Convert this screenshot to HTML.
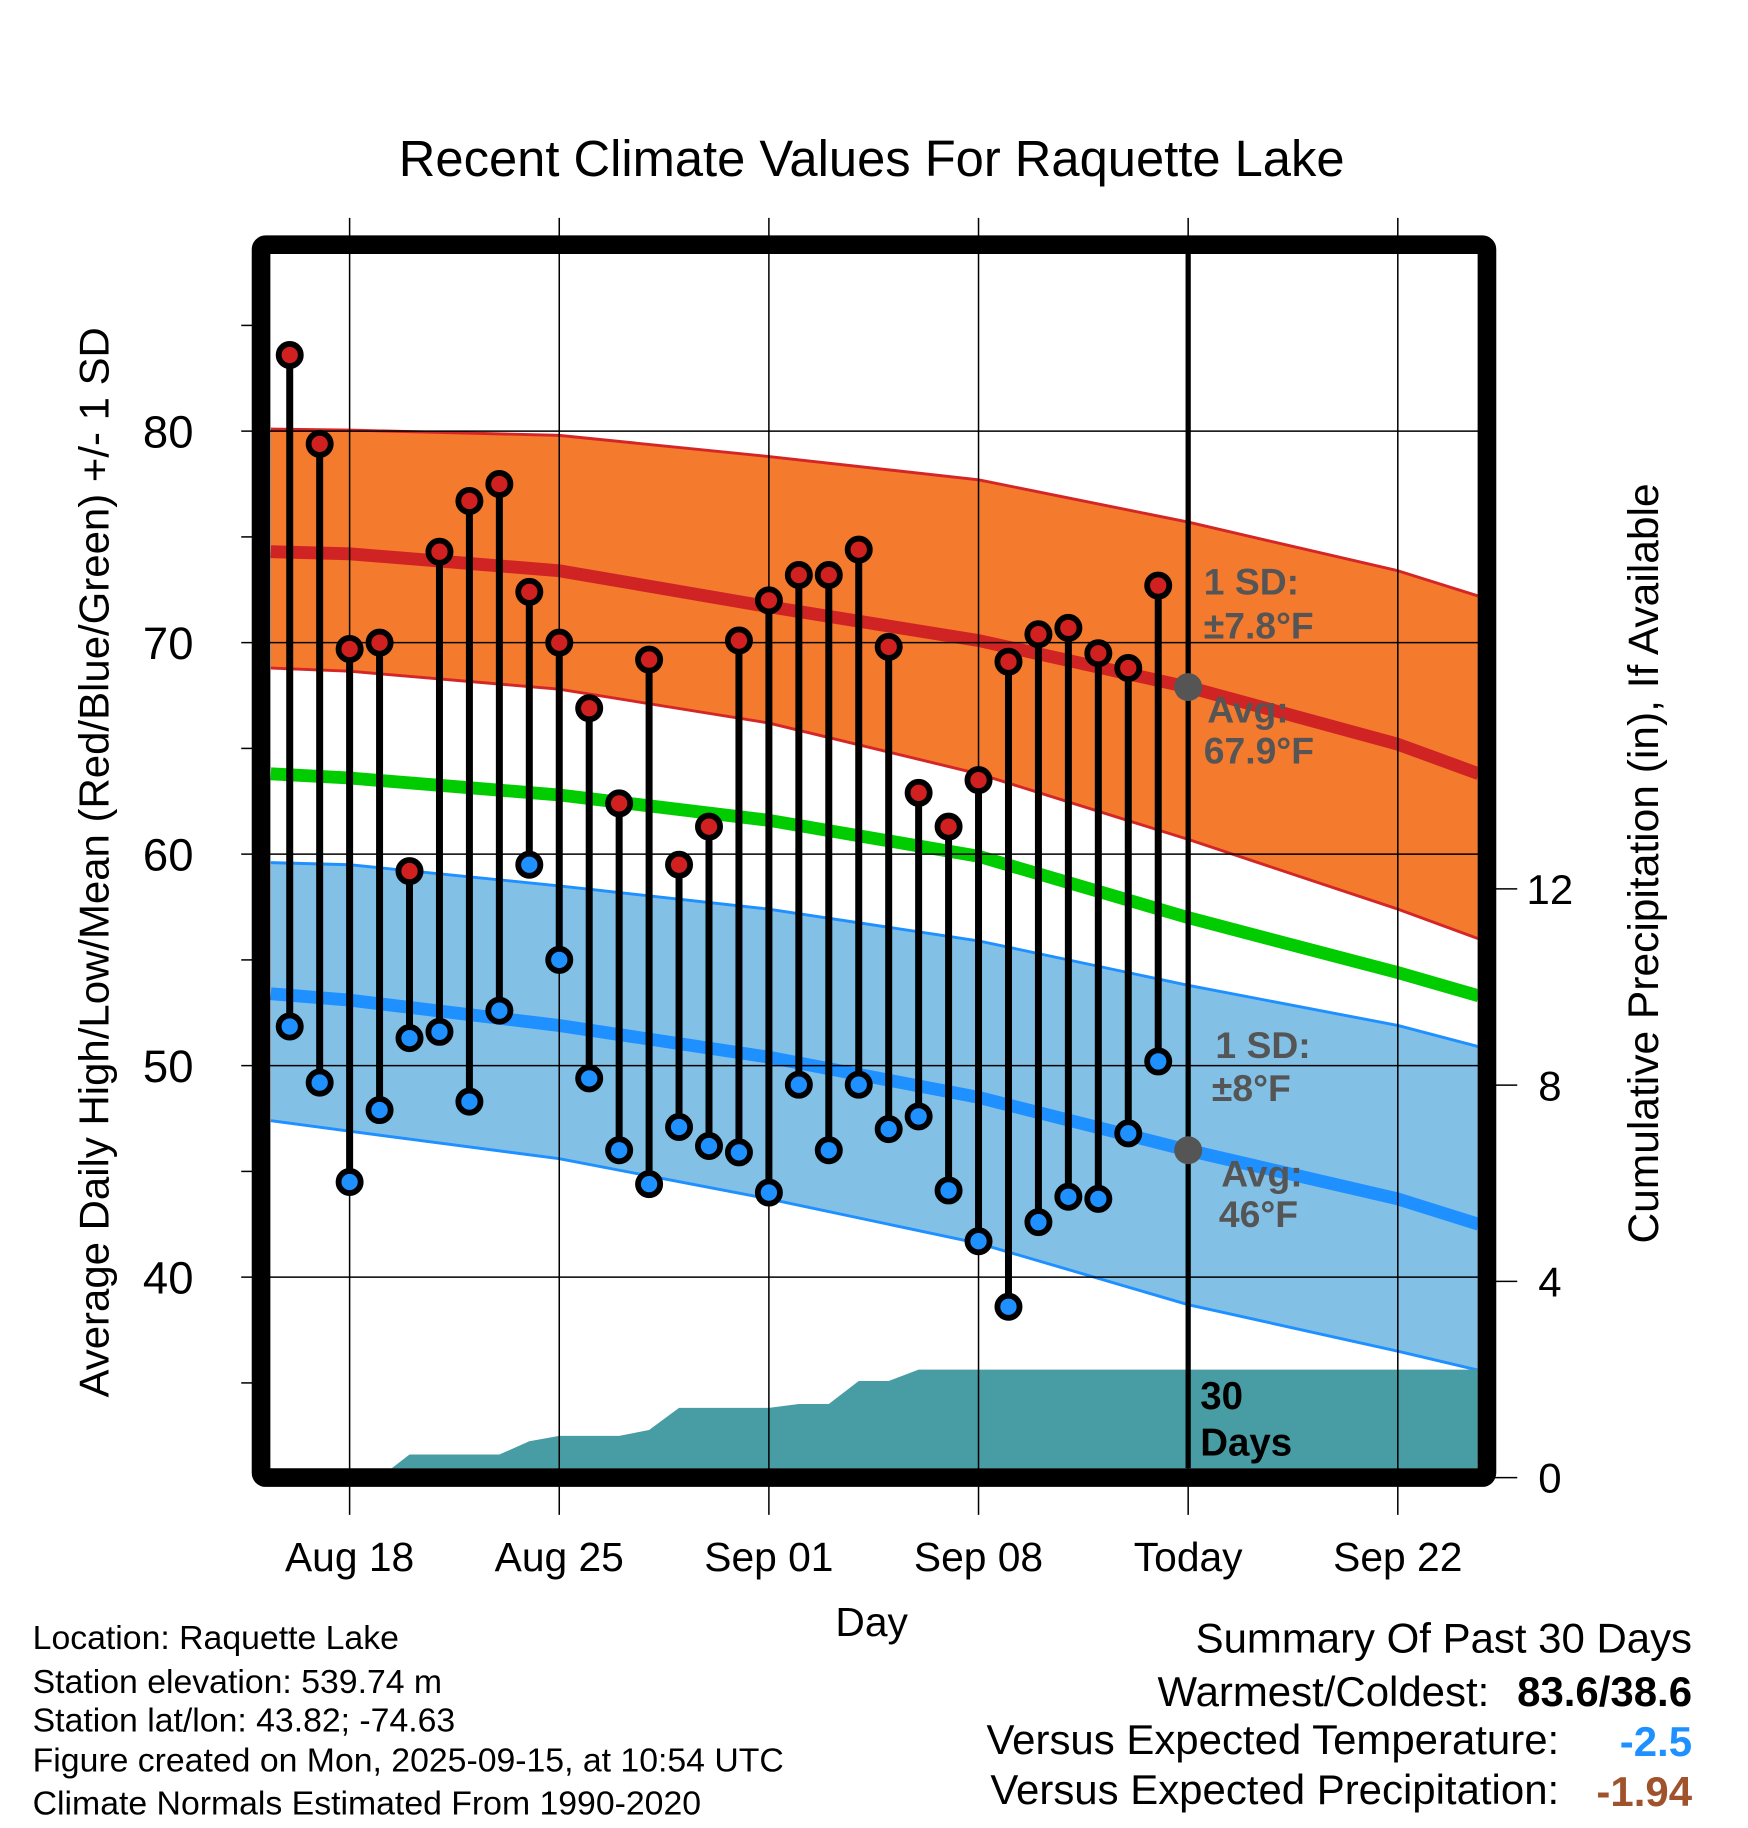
<!DOCTYPE html>
<html><head><meta charset="utf-8"><style>
html,body{margin:0;padding:0;background:#fff}
svg{display:block}
text{font-family:"Liberation Sans",Arial,sans-serif}
</style></head><body>
<svg id="chart" width="1748" height="1828" viewBox="0 0 1500 1568.7" xmlns="http://www.w3.org/2000/svg">
<rect width="1500" height="1568.7" fill="#fff"/>
<g id="bands"></g>
<g id="grid"></g>
<g id="marks"></g>
<g id="frame"></g>
<g id="labels"></g>
</svg>
<script>
// ----- data -----
const highs=[83.6,79.4,69.7,70.0,59.2,74.3,76.7,77.5,72.4,70.0,66.9,62.4,69.2,59.5,61.3,70.1,72.0,73.2,73.2,74.4,69.8,62.9,61.3,63.5,69.1,70.4,70.7,69.5,68.8,72.7];
const lows=[51.85,49.2,44.5,47.9,51.3,51.6,48.3,52.6,59.5,55.0,49.4,46.0,44.4,47.1,46.2,45.9,44.0,49.1,46.0,49.1,47.0,47.6,44.1,41.7,38.6,42.6,43.8,43.7,46.8,50.2];
const precip=[0,0,0,0,0.47,0.47,0.47,0.47,0.74,0.85,0.85,0.85,0.97,1.42,1.42,1.42,1.42,1.5,1.5,1.97,1.97,2.2,2.2,2.2,2.2,2.2,2.2,2.2,2.2,2.2,2.2];
const normDays=[-0.63,2,9,16,23,30,37,39.7];
const hiUpper=[80.1,80.05,79.8,78.8,77.7,75.7,73.4,72.2];
const hiMean=[74.3,74.2,73.4,71.7,70.1,67.9,65.2,63.8];
const hiLower=[68.8,68.65,67.8,66.2,63.8,60.7,57.4,56.0];
const meanLine=[63.8,63.6,62.8,61.6,59.9,57.0,54.4,53.3];
const loUpper=[59.6,59.5,58.5,57.4,55.9,53.8,51.9,50.9];
const loMean=[53.4,53.1,51.9,50.4,48.5,46.0,43.7,42.5];
const loLower=[47.4,46.9,45.6,43.7,41.6,38.7,36.5,35.6];
const xTickDays=[2,9,16,23,30,37];
const xTickLabels=["Aug 18","Aug 25","Sep 01","Sep 08","Today","Sep 22"];
const yTicks=[40,50,60,70,80];
const yMinor=[35,45,55,65,75,85];
const pTicks=[0,4,8,12];
// ----- scales -----
const X=d=>248.6+d*25.7;
const Y=t=>370+(80-t)*18.15;
const P=v=>1268-v*42.1;
const NS="http://www.w3.org/2000/svg";
function mk(parent,tag,attrs){const e=document.createElementNS(NS,tag);for(const k in attrs)e.setAttribute(k,attrs[k]);document.getElementById(parent).appendChild(e);return e;}
const L=232,R=1268,T=218,B=1260;
const defs=document.createElementNS(NS,'defs');defs.innerHTML='<clipPath id="pc"><rect x="232" y="218" width="1036" height="1042"/></clipPath>';document.getElementById('chart').prepend(defs);
document.getElementById('bands').setAttribute('clip-path','url(#pc)');
document.getElementById('marks').setAttribute('clip-path','url(#pc)');
function band(up,lo,fill,edge,name){
  let d='M'+normDays.map((d,i)=>X(d)+','+Y(up[i])).join('L')+'L'+normDays.slice().reverse().map((d,j)=>{const i=normDays.length-1-j;return X(d)+','+Y(lo[i]);}).join('L')+'Z';
  let e=mk('bands','path',{d:d,fill:fill});
  
  
  [up,lo].forEach(a=>{let l=mk('bands','polyline',{points:normDays.map((d,i)=>X(d)+','+Y(a[i])).join(' '),fill:'none',stroke:edge,'stroke-width':2.5});
  
  });
}
function line(a,col,w,name){let l=mk('bands','polyline',{points:normDays.map((d,i)=>X(d)+','+Y(a[i])).join(' '),fill:'none',stroke:col,'stroke-width':w});

}
band(hiUpper,hiLower,'#f47a2d','#d42626','high-sd-band');
band(loUpper,loLower,'#82c0e6','#1e90ff','low-sd-band');
line(hiMean,'#d02424',11,'normal-high-line');
line(meanLine,'#00cc00',11,'normal-mean-line');
line(loMean,'#1e90ff',11,'normal-low-line');
{let pts=precip.map((v,i)=>X(i)+','+P(v));let last=precip[precip.length-1];
let d='M'+X(0)+','+1270+'L'+pts.join('L')+'L'+R+','+P(last)+'L'+R+',1270Z';
let e=mk('bands','path',{d:d,fill:'#489ca4'});

}
xTickDays.forEach(d=>{let g=mk('grid','line',{x1:X(d),x2:X(d),y1:187,y2:1300,stroke:'#000','stroke-width':1.3});

});
yTicks.forEach(t=>{let g=mk('grid','line',{x1:207,x2:1275,y1:Y(t),y2:Y(t),stroke:'#000','stroke-width':1.3});

});
yMinor.forEach(t=>{let g=mk('grid','line',{x1:207,x2:220,y1:Y(t),y2:Y(t),stroke:'#000','stroke-width':1.3});

});
pTicks.forEach(v=>{let g=mk('grid','line',{x1:1280,x2:1302,y1:P(v),y2:P(v),stroke:'#000','stroke-width':1.3});

});
highs.forEach((h,i)=>{let s=mk('marks','line',{x1:X(i),x2:X(i),y1:Y(h),y2:Y(lows[i]),stroke:'#000','stroke-width':6});

});
highs.forEach((h,i)=>{let c=mk('marks','circle',{cx:X(i),cy:Y(h),r:9.5,fill:'#d02020',stroke:'#000','stroke-width':5});

});
lows.forEach((v,i)=>{let c=mk('marks','circle',{cx:X(i),cy:Y(v),r:9.5,fill:'#1e90ff',stroke:'#000','stroke-width':5});

});
{let t=mk('marks','line',{x1:X(30),x2:X(30),y1:T,y2:B,stroke:'#000','stroke-width':4.5});

}
{let c=mk('marks','circle',{cx:X(30),cy:Y(hiMean[5]),r:12,fill:'#555'});


c=mk('marks','circle',{cx:X(30),cy:Y(loMean[5]),r:12,fill:'#555'});

}
{let f=mk('frame','rect',{x:224,y:210,width:1052,height:1058,fill:'none',stroke:'#000','stroke-width':16,rx:4});

}
function tx(x,y,s,str,opt){let e=mk('labels','text',Object.assign({x:x,y:y,'font-size':s},opt||{}));e.textContent=str;return e;}
let e;
e=tx(748,151,43.5,'Recent Climate Values For Raquette Lake',{'text-anchor':'middle'});


xTickDays.forEach((d,i)=>{let t=tx(X(d),1348,35,xTickLabels[i],{'text-anchor':'middle'});

});
yTicks.forEach(v=>{let t=tx(166,Y(v)+14,39,String(v),{'text-anchor':'end'});

});
pTicks.forEach(v=>{let t=tx(1330,P(v)+13,36,String(v),{'text-anchor':'middle'});

});
e=tx(748,1404,35,'Day',{'text-anchor':'middle'});


e=tx(0,0,36,'Average Daily High/Low/Mean (Red/Blue/Green) +/- 1 SD',{'text-anchor':'middle',transform:'translate(93,740) rotate(-90)'});


e=tx(0,0,36.5,'Cumulative Precipitation (in), If Available',{'text-anchor':'middle',transform:'translate(1423,741) rotate(-90)'});


const g={fill:'#555','font-weight':'bold'};
[[1033,510,'1 SD:'],[1033,548,'±7.8°F'],[1036,620,'Avg:'],[1033,655,'67.9°F'],[1043,908,'1 SD:'],[1040,945,'±8°F'],[1048,1018,'Avg:'],[1046,1053,'46°F']].forEach(a=>{let t=tx(a[0],a[1],32,a[2],g);

});
e=tx(1030,1209,33,'30',{'font-weight':'bold'});


e=tx(1030,1249,33,'Days',{'font-weight':'bold'});


[[1415,'Location: Raquette Lake'],[1453,'Station elevation: 539.74 m'],[1486,'Station lat/lon: 43.82; -74.63'],[1520,'Figure created on Mon, 2025-09-15, at 10:54 UTC'],[1557,'Climate Normals Estimated From 1990-2020']].forEach(a=>{let t=tx(28,a[0],29,a[1]);

});
e=tx(1452,1418,36,'Summary Of Past 30 Days',{'text-anchor':'end'});


e=tx(1278,1464,36,'Warmest/Coldest:',{'text-anchor':'end'});


e=tx(1452,1464,36,'83.6/38.6',{'text-anchor':'end','font-weight':'bold'});


e=tx(1338,1505,36,'Versus Expected Temperature:',{'text-anchor':'end'});


e=tx(1452,1507,36,'-2.5',{'text-anchor':'end','font-weight':'bold',fill:'#1e90ff'});


e=tx(1338,1548,36,'Versus Expected Precipitation:',{'text-anchor':'end'});


e=tx(1452,1550,36,'-1.94',{'text-anchor':'end','font-weight':'bold',fill:'#a0522d'});


</script>
</body></html>
